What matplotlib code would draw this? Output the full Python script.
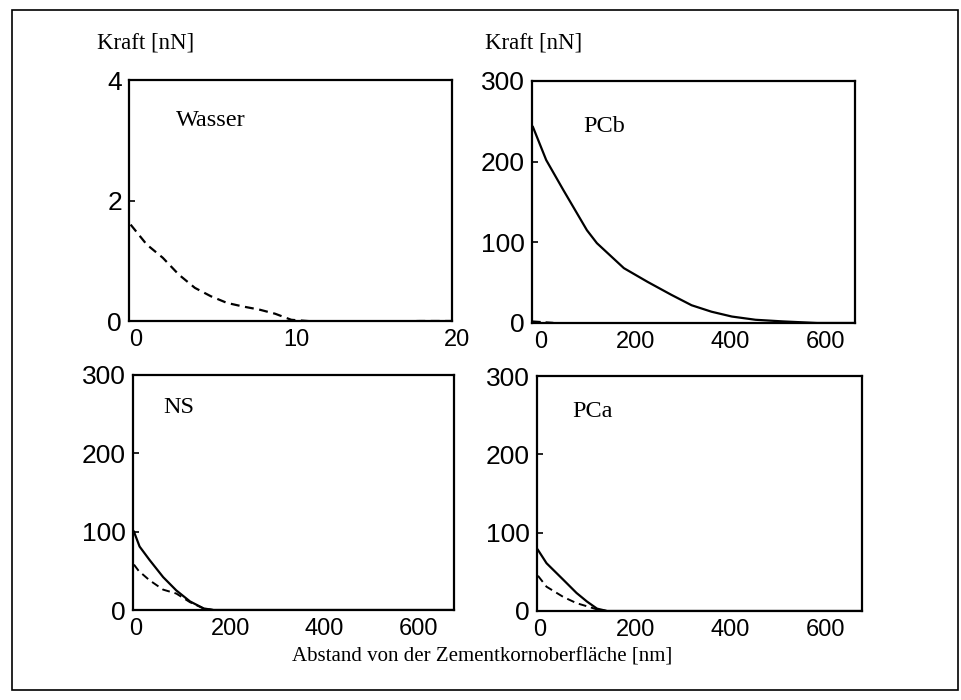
import matplotlib
matplotlib.use("Agg")
import matplotlib.pyplot as plt
from matplotlib.patches import Rectangle
from matplotlib.transforms import ScaledTranslation

# Wasser (nur gestrichelt), x in nm
wasser_x = [0, 1, 2, 3, 4, 5, 6, 7, 8, 9, 10, 12, 14, 16, 18, 20]
wasser_dash = [1.6, 1.27, 1.05, 0.77, 0.55, 0.41, 0.3, 0.24, 0.19, 0.12, 0.02, -0.02, -0.03, -0.01, 0, 0]

# PCb
pcb_x = [0, 28, 64, 114, 135, 192, 242, 292, 335, 377, 420, 470, 527, 600, 680]
pcb_solid = [243, 202, 165, 115, 99, 68, 51, 35, 22, 14, 8, 4, 2, 0, 0]
pcb_dash_x = [0, 50, 680]
pcb_dash = [2, 0, 0]

# NS
ns_x = [0, 12, 33, 62, 90, 119, 148, 169, 680]
ns_solid = [100, 81, 64, 42, 25, 11, 2, 0, 0]
ns_dash_x = [0, 10, 33, 62, 90, 119, 148, 169]
ns_dash = [58, 50, 38, 26, 21, 10, 2, 0]

# PCa
pca_x = [0, 18, 53, 81, 103, 124, 145, 680]
pca_solid = [78, 61, 40, 23, 12, 3, 0, 0]
pca_dash_x = [0, 18, 53, 81, 103, 124, 145]
pca_dash = [45, 31, 18, 10, 6, 2, 0]

serif = "Liberation Serif"
sans = "Liberation Sans"
dash = (0, (4, 2.5))

W, H = 962, 700
fig = plt.figure(figsize=(9.62, 7.0), dpi=100)

# outer frame
fig.patches.append(Rectangle((12 / W, 1 - 690 / H), 946 / W, 680 / H,
                             transform=fig.transFigure, fill=False, lw=1.2, color="black"))


def make_ax(left, top, right, bottom):
    ax = fig.add_axes([left / W, 1 - bottom / H, (right - left) / W, (bottom - top) / H])
    for s in ax.spines.values():
        s.set_linewidth(1.6)
    ax.tick_params(axis="y", direction="in", length=4, width=1.2, pad=5, labelsize=19)
    ax.tick_params(axis="x", length=0, pad=6, labelsize=17)
    return ax


def finish(ax, shift_px):
    # labels in the scan sit a bit right of their positions
    off = ScaledTranslation(shift_px / 100, 0, fig.dpi_scale_trans)
    for lab in ax.get_xticklabels():
        lab.set_family(sans)
        lab.set_transform(lab.get_transform() + off)
    for lab in ax.get_yticklabels():
        lab.set_family(sans)


ax1 = make_ax(129, 80, 452, 321)
ax1.plot(wasser_x, wasser_dash, color="black", lw=1.6, linestyle=dash)
ax1.set_xlim(-0.1, 20)
ax1.set_ylim(0, 4)
ax1.set_xticks([0, 10, 20])
ax1.set_yticks([0, 2, 4])
ax1.text(0.145, 0.83, "Wasser", transform=ax1.transAxes, family=serif, fontsize=17.5, va="center")
finish(ax1, 5)

ax2 = make_ax(532, 81, 855, 323)
ax2.plot(pcb_x, pcb_solid, color="black", lw=1.6)
ax2.plot(pcb_dash_x, pcb_dash, color="black", lw=1.4, linestyle=dash)
ax2.set_xlim(-2, 680)
ax2.set_ylim(0, 300)
ax2.set_xticks([0, 200, 400, 600])
ax2.set_yticks([0, 100, 200, 300])
ax2.text(0.158, 0.81, "PCb", transform=ax2.transAxes, family=serif, fontsize=17.5, va="center")
finish(ax2, 8)

ax3 = make_ax(133, 375, 454, 610)
ax3.plot(ns_x, ns_solid, color="black", lw=1.6)
ax3.plot(ns_dash_x, ns_dash, color="black", lw=1.4, linestyle=dash)
ax3.set_xlim(-2, 680)
ax3.set_ylim(0, 300)
ax3.set_xticks([0, 200, 400, 600])
ax3.set_yticks([0, 100, 200, 300])
ax3.text(0.093, 0.86, "NS", transform=ax3.transAxes, family=serif, fontsize=17.5, va="center")
finish(ax3, 2)

ax4 = make_ax(537, 376, 862, 611)
ax4.plot(pca_x, pca_solid, color="black", lw=1.6)
ax4.plot(pca_dash_x, pca_dash, color="black", lw=1.4, linestyle=dash)
ax4.set_xlim(-2, 680)
ax4.set_ylim(0, 300)
ax4.set_xticks([0, 200, 400, 600])
ax4.set_yticks([0, 100, 200, 300])
ax4.text(0.108, 0.85, "PCa", transform=ax4.transAxes, family=serif, fontsize=17.5, va="center")
finish(ax4, 2)

# axis titles
fig.text(97 / W, 1 - 43 / H, "Kraft [nN]", family=serif, fontsize=16.5, va="center")
fig.text(485 / W, 1 - 43 / H, "Kraft [nN]", family=serif, fontsize=16.5, va="center")
fig.text(482 / W, 1 - 657 / H, "Abstand von der Zementkornoberfläche [nm]",
         family=serif, fontsize=15, ha="center", va="center")

fig.savefig("out.png", dpi=100)
